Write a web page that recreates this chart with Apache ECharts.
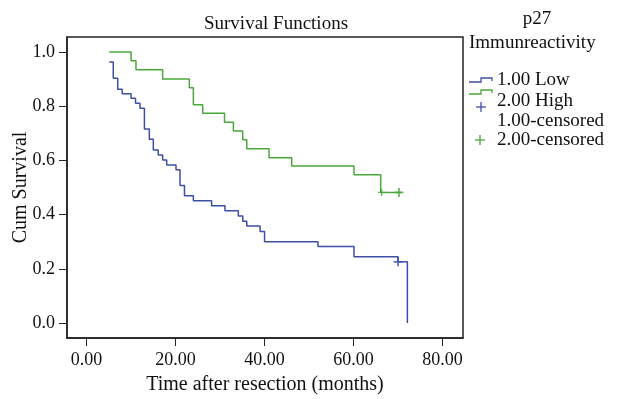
<!DOCTYPE html>
<html>
<head>
<meta charset="utf-8">
<script src="https://cdn.jsdelivr.net/npm/echarts@6/dist/echarts.min.js"></script>
<style>
  html, body { margin: 0; padding: 0; background: #fff; }
  #chart { width: 631px; height: 399px; }
</style>
</head>
<body>
<div id="chart"></div>
<script>
// survival steps: [time, cum survival]
const lowSteps = [
  [5.1, 0.963], [6.0, 0.903], [7.0, 0.862], [8.0, 0.846], [10.0, 0.829],
  [11.0, 0.811], [12.0, 0.792], [13.0, 0.716], [14.1, 0.678], [15.0, 0.638],
  [16.1, 0.62], [17.1, 0.601], [18.0, 0.583], [20.1, 0.565], [21.0, 0.507],
  [22.0, 0.47], [24.0, 0.451], [28.1, 0.433], [31.1, 0.414], [34.1, 0.395],
  [35.1, 0.376], [36.0, 0.358], [39.0, 0.338], [40.0, 0.30], [52.0, 0.282],
  [60.1, 0.245], [70.0, 0.226], [72.1, 0]
];
const highSteps = [
  [5.1, 1.0], [10.0, 0.967], [11.1, 0.934], [17.1, 0.90], [23.1, 0.868],
  [24.0, 0.805], [26.1, 0.774], [31.0, 0.741], [33.0, 0.708], [35.1, 0.676],
  [36.0, 0.643], [41.0, 0.61], [46.1, 0.579], [60.1, 0.547], [66.1, 0.482],
  [70.8, 0.482]
];
const lowCensored = [[70.0, 0.226]];
const highCensored = [[66.3, 0.482], [70.2, 0.482]];
const xTicks = [0, 20, 40, 60, 80];
const yTicks = [0, 0.2, 0.4, 0.6, 0.8, 1.0];

const BLUE = '#3d4fa5';
const GREEN = '#4aa83a';
const FONT = 'Liberation Serif';
const PLUS = 'path://M4,0H6V4H10V6H6V10H4V6H0V4H4Z';

const chart = echarts.init(document.getElementById('chart'));

// legend drawn by hand (SPSS style)
const stepGlyph = (x, y, color) => ({
  type: 'polyline',
  shape: { points: [[x, y + 2], [x + 12, y + 2], [x + 12, y - 2], [x + 23, y - 2], [x + 23, y + 1]] },
  style: { stroke: color, lineWidth: 1.3, fill: null }
});
const plusGlyph = (x, y, color) => ({
  type: 'group',
  children: [
    { type: 'line', shape: { x1: x - 5, y1: y, x2: x + 5, y2: y }, style: { stroke: color, lineWidth: 1.3 } },
    { type: 'line', shape: { x1: x, y1: y - 5, x2: x, y2: y + 5 }, style: { stroke: color, lineWidth: 1.3 } }
  ]
});
const legText = (x, y, text, align) => ({
  type: 'text', x, y,
  style: { text, font: '19px ' + FONT, fill: '#111', align: align || 'left', verticalAlign: 'middle' }
});

chart.setOption({
  animation: false,
  title: {
    text: 'Survival Functions',
    left: 271, top: 10, textAlign: 'center',
    textStyle: { fontFamily: FONT, fontSize: 19, fontWeight: 'normal', color: '#111' }
  },
  grid: {
    left: 67, top: 37, right: 168, bottom: 61,
    outerBoundsMode: 'none', containLabel: false,
    show: true, borderColor: '#222', borderWidth: 1.5, backgroundColor: '#fff'
  },
  xAxis: {
    type: 'value', min: -4.4, max: 84.6,
    name: 'Time after resection (months)', nameLocation: 'middle', nameGap: 37,
    nameTextStyle: { fontFamily: FONT, fontSize: 20, color: '#111' },
    axisLine: { onZero: false, lineStyle: { color: '#222', width: 1.5 } },
    axisTick: { customValues: xTicks, length: 8, lineStyle: { color: '#222' } },
    axisLabel: {
      customValues: xTicks, formatter: v => v.toFixed(2), margin: 13,
      fontFamily: FONT, fontSize: 18, color: '#111'
    },
    splitLine: { show: false }
  },
  yAxis: {
    type: 'value', min: -0.055, max: 1.055,
    name: 'Cum Survival', nameLocation: 'middle', nameGap: 36, nameRotate: 90,
    nameMoveOverlap: false,
    nameTextStyle: { fontFamily: FONT, fontSize: 20, color: '#111' },
    axisLine: { onZero: false, lineStyle: { color: '#222', width: 1.5 } },
    axisTick: { customValues: yTicks, length: 8, lineStyle: { color: '#222' } },
    axisLabel: {
      customValues: yTicks, formatter: v => v.toFixed(1), margin: 12,
      fontFamily: FONT, fontSize: 18, color: '#111'
    },
    splitLine: { show: false }
  },
  graphic: [
    legText(537, 19, 'p27', 'center'),
    legText(469, 43, 'Immunreactivity'),
    stepGlyph(469, 80, BLUE), legText(497, 80, '1.00 Low'),
    stepGlyph(469, 92, GREEN), legText(497, 101, '2.00 High'),
    plusGlyph(481, 107, BLUE), legText(497, 121, '1.00-censored'),
    plusGlyph(480, 140, GREEN), legText(497, 140, '2.00-censored')
  ],
  series: [
    {
      name: '1.00 Low', type: 'line', step: 'end', data: lowSteps,
      showSymbol: false, lineStyle: { color: BLUE, width: 1.5 }, itemStyle: { color: BLUE }
    },
    {
      name: '2.00 High', type: 'line', step: 'end', data: highSteps,
      showSymbol: false, lineStyle: { color: GREEN, width: 1.5 }, itemStyle: { color: GREEN }
    },
    {
      name: '1.00-censored', type: 'scatter', data: lowCensored,
      symbol: PLUS, symbolSize: 9, itemStyle: { color: BLUE }
    },
    {
      name: '2.00-censored', type: 'scatter', data: highCensored,
      symbol: PLUS, symbolSize: (v, p) => (p.dataIndex === 0 ? 7 : 9), itemStyle: { color: GREEN }
    }
  ]
});
</script>
</body>
</html>
